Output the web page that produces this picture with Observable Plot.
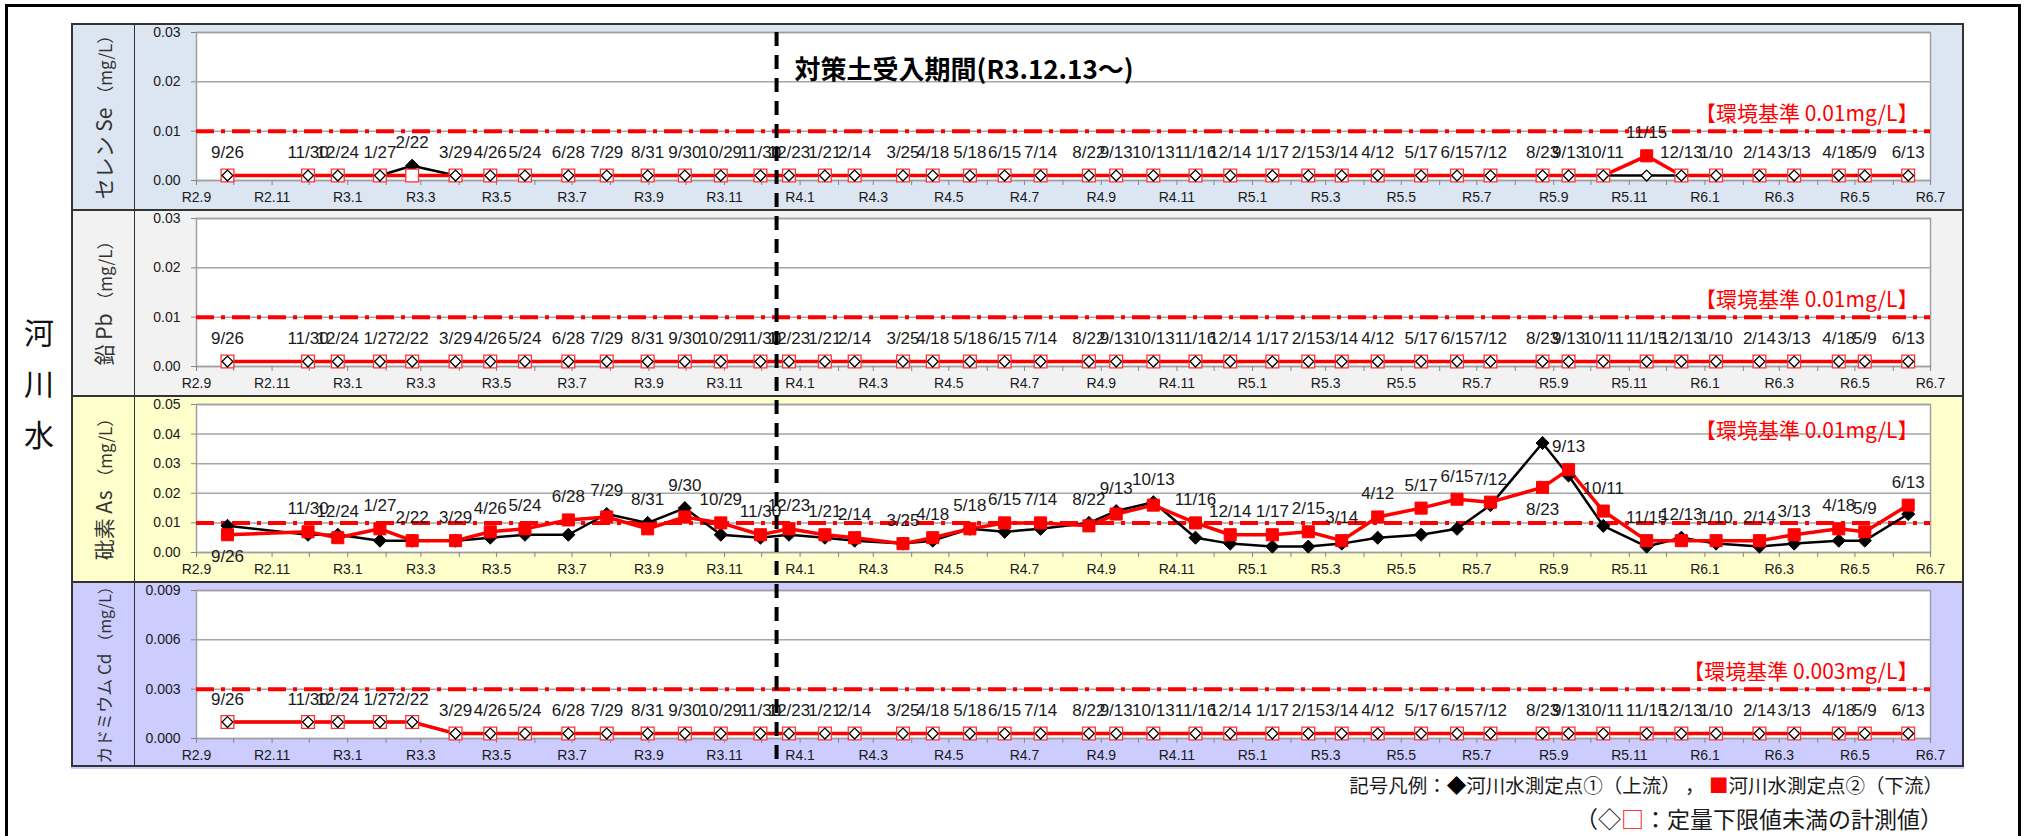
<!DOCTYPE html>
<html><head><meta charset="utf-8">
<script src="https://cdn.jsdelivr.net/npm/d3@7"></script>
<script src="https://cdn.jsdelivr.net/npm/@observablehq/plot@0.6"></script>
<style>
body{margin:0;background:#fff;}
#root{position:relative;width:2028px;height:836px;overflow:hidden;background:#fff;font-family:"Noto Sans CJK JP","Noto Sans",sans-serif;}
.abs{position:absolute;}
</style></head><body><div id="root"></div>
<script>
// ---------- DATA ----------
const sampleDates = ["2020-09-26","2020-11-30","2020-12-24",
 "2021-01-27","2021-02-22","2021-03-29","2021-04-26","2021-05-24","2021-06-28","2021-07-29","2021-08-31","2021-09-30","2021-10-29","2021-11-30","2021-12-23",
 "2022-01-21","2022-02-14","2022-03-25","2022-04-18","2022-05-18","2022-06-15","2022-07-14","2022-08-22","2022-09-13","2022-10-13","2022-11-16","2022-12-14",
 "2023-01-17","2023-02-15","2023-03-14","2023-04-12","2023-05-17","2023-06-15","2023-07-12","2023-08-23","2023-09-13","2023-10-11","2023-11-15","2023-12-13",
 "2024-01-10","2024-02-14","2024-03-13","2024-04-18","2024-05-09","2024-06-13"];

const xTickLabels = ["R2.9","R2.11","R3.1","R3.3","R3.5","R3.7","R3.9","R3.11","R4.1","R4.3","R4.5","R4.7","R4.9","R4.11","R5.1","R5.3","R5.5","R5.7","R5.9","R5.11","R6.1","R6.3","R6.5","R6.7"];
const xStart = "2020-09-01", xEnd = "2024-07-01";
const acceptanceStart = "2021-12-13";
const acceptanceLabel = "対策土受入期間(R3.12.13～)";

// Selenium (mg/L)
const seUp = [0.001,0.001,0.001,0.001,0.003,0.001,0.001,0.001,0.001,0.001,0.001,0.001,0.001,0.001,0.001,
 0.001,0.001,0.001,0.001,0.001,0.001,0.001,0.001,0.001,0.001,0.001,0.001,
 0.001,0.001,0.001,0.001,0.001,0.001,0.001,0.001,0.001,0.001,0.001,0.001,
 0.001,0.001,0.001,0.001,0.001,0.001];
const seDown = [0.001,0.001,0.001,0.001,0.001,0.001,0.001,0.001,0.001,0.001,0.001,0.001,0.001,0.001,0.001,
 0.001,0.001,0.001,0.001,0.001,0.001,0.001,0.001,0.001,0.001,0.001,0.001,
 0.001,0.001,0.001,0.001,0.001,0.001,0.001,0.001,0.001,0.001,0.005,0.001,
 0.001,0.001,0.001,0.001,0.001,0.001];
const seUpDetected = ["2021-02-22"];
const seDownDetected = ["2023-11-15"];

// Lead (mg/L)
const pbUp = [0.001,0.001,0.001,0.001,0.001,0.001,0.001,0.001,0.001,0.001,0.001,0.001,0.001,0.001,0.001,
 0.001,0.001,0.001,0.001,0.001,0.001,0.001,0.001,0.001,0.001,0.001,0.001,
 0.001,0.001,0.001,0.001,0.001,0.001,0.001,0.001,0.001,0.001,0.001,0.001,
 0.001,0.001,0.001,0.001,0.001,0.001];
const pbDown = [0.001,0.001,0.001,0.001,0.001,0.001,0.001,0.001,0.001,0.001,0.001,0.001,0.001,0.001,0.001,
 0.001,0.001,0.001,0.001,0.001,0.001,0.001,0.001,0.001,0.001,0.001,0.001,
 0.001,0.001,0.001,0.001,0.001,0.001,0.001,0.001,0.001,0.001,0.001,0.001,
 0.001,0.001,0.001,0.001,0.001,0.001];
const pbUpDetected = [];
const pbDownDetected = [];

// Arsenic (mg/L)
const asUp = [0.009,0.006,0.006,
 0.004,0.004,0.004,0.005,0.006,0.006,0.013,0.010,0.015,0.006,0.005,0.006,
 0.005,0.004,0.003,0.004,0.008,0.007,0.008,0.010,0.014,0.017,0.005,0.003,
 0.002,0.002,0.003,0.005,0.006,0.008,0.016,0.037,0.026,0.009,0.002,0.005,
 0.003,0.002,0.003,0.004,0.004,0.013];
const asDown = [0.006,0.007,0.005,
 0.008,0.004,0.004,0.007,0.008,0.011,0.012,0.008,0.012,0.010,0.006,0.008,
 0.006,0.005,0.003,0.005,0.008,0.010,0.010,0.009,0.013,0.016,0.010,0.006,
 0.006,0.007,0.004,0.012,0.015,0.018,0.017,0.022,0.028,0.014,0.004,0.004,
 0.004,0.004,0.006,0.008,0.007,0.016];
const asUpDetected = sampleDates;
const asDownDetected = sampleDates;
const asLabelBelow = ["2020-09-26","2023-08-23"];

// Cadmium (mg/L)
const cdUp = [0.001,0.001,0.001,
 0.001,0.001,0.0003,0.0003,0.0003,0.0003,0.0003,0.0003,0.0003,0.0003,0.0003,0.0003,
 0.0003,0.0003,0.0003,0.0003,0.0003,0.0003,0.0003,0.0003,0.0003,0.0003,0.0003,0.0003,
 0.0003,0.0003,0.0003,0.0003,0.0003,0.0003,0.0003,0.0003,0.0003,0.0003,0.0003,0.0003,
 0.0003,0.0003,0.0003,0.0003,0.0003,0.0003];
const cdDown = [0.001,0.001,0.001,
 0.001,0.001,0.0003,0.0003,0.0003,0.0003,0.0003,0.0003,0.0003,0.0003,0.0003,0.0003,
 0.0003,0.0003,0.0003,0.0003,0.0003,0.0003,0.0003,0.0003,0.0003,0.0003,0.0003,0.0003,
 0.0003,0.0003,0.0003,0.0003,0.0003,0.0003,0.0003,0.0003,0.0003,0.0003,0.0003,0.0003,
 0.0003,0.0003,0.0003,0.0003,0.0003,0.0003];
const cdUpDetected = [];
const cdDownDetected = [];

const seTicks = [0, 0.01, 0.02, 0.03];
const pbTicks = [0, 0.01, 0.02, 0.03];
const asTicks = [0, 0.01, 0.02, 0.03, 0.04, 0.05];
const cdTicks = [0, 0.003, 0.006, 0.009];
const seStd = 0.01, pbStd = 0.01, asStd = 0.01, cdStd = 0.003;
const seStdLabel = "【環境基準 0.01mg/L】";
const pbStdLabel = "【環境基準 0.01mg/L】";
const asStdLabel = "【環境基準 0.01mg/L】";
const cdStdLabel = "【環境基準 0.003mg/L】";
const groupLabel = "河川水";
const legendLine1 = ["記号凡例：", "◆", "河川水測定点①（上流） ，", "■", "河川水測定点②（下流）"];
const legendLine2 = ["（◇", "□", "：定量下限値未満の計測値）"];

// ---------- LAYOUT ----------
const NARROW = '"Liberation Sans Narrow","Arial Narrow","Liberation Sans",Arial,sans-serif';
const JP = '"Noto Sans CJK JP","Noto Sans",sans-serif';
const root = document.getElementById("root");
function el(style, html) { const d = document.createElement("div"); d.className = "abs"; Object.assign(d.style, style); if (html != null) d.innerHTML = html; root.appendChild(d); return d; }

const parseD = s => new Date(s + "T00:00:00Z");
const xDomain = [parseD(xStart), parseD(xEnd)];
const tickDates = xTickLabels.map(l => { const [y, m] = l.slice(1).split("."); return new Date(Date.UTC(2018 + +y, +m - 1, 1)); });
const labelMap = new Map(tickDates.map((d, i) => [+d, xTickLabels[i]]));
const monthTicks = d3.utcMonth.range(xDomain[0], d3.utcDay.offset(xDomain[1], 1));

const PANEL_L = 71, PANEL_R = 1964, DIV_X = 134, PANEL_H = 186;
const PLOT_W = PANEL_R - DIV_X, M_LEFT = 62, M_RIGHT = 34, M_TOP = 9, M_BOTTOM = 29;

// outer border (bottom edge lies just outside the picture)
el({left:"5px", top:"4px", width:"2016px", height:"840px", border:"3px solid #000", boxSizing:"border-box"});

const panels = [
  {top:23, bg:"#DCE6F2", title:"セレン Se", tfs:21, ufs:17, up:seUp, down:seDown, upDet:seUpDetected, downDet:seDownDetected, ticks:seTicks, fmt:".2f", std:seStd, stdLabel:seStdLabel, below:[]},
  {top:209, bg:"#F2F2F2", title:"鉛 Pb", tfs:21, ufs:17, up:pbUp, down:pbDown, upDet:pbUpDetected, downDet:pbDownDetected, ticks:pbTicks, fmt:".2f", std:pbStd, stdLabel:pbStdLabel, below:[]},
  {top:395, bg:"#FFFFCC", title:"砒素 As", tfs:21, ufs:17, up:asUp, down:asDown, upDet:asUpDetected, downDet:asDownDetected, ticks:asTicks, fmt:".2f", std:asStd, stdLabel:asStdLabel, below:asLabelBelow, stdTop:true},
  {top:581, bg:"#CCCCFF", title:"カドミウム Cd", tfs:17, ufs:16, up:cdUp, down:cdDown, upDet:cdUpDetected, downDet:cdDownDetected, ticks:cdTicks, fmt:".3f", std:cdStd, stdLabel:cdStdLabel, below:[]}
];

panels.forEach(p => {
  el({left:PANEL_L + "px", top:p.top + "px", width:(PANEL_R - PANEL_L) + "px", height:PANEL_H + "px", background:p.bg, borderTop:"2px solid #333"});
  el({left:DIV_X + "px", top:p.top + "px", width:"0px", height:PANEL_H + "px", borderLeft:"1.5px solid #333"});
  // rotated axis title
  el({left:(PANEL_L + DIV_X) / 2 + "px", top:(p.top + PANEL_H / 2 - 3) + "px", whiteSpace:"nowrap", transform:"translate(-50%,-50%) rotate(-90deg)", fontFamily:JP, color:"#333", fontSize:p.tfs + "px", lineHeight:"1"},
    p.title + ' <span style="font-size:' + p.ufs + 'px">（mg/L）</span>');

  const upSet = new Set(p.upDet), downSet = new Set(p.downDet), belowSet = new Set(p.below);
  const rows = sampleDates.map((s, i) => ({
    date: parseD(s), label: `${+s.slice(5, 7)}/${+s.slice(8, 10)}`,
    up: p.up[i], down: p.down[i], upDet: upSet.has(s), downDet: downSet.has(s), below: belowSet.has(s)
  }));
  const yMax = p.ticks[p.ticks.length - 1];
  const svg = Plot.plot({
    width: PLOT_W, height: PANEL_H,
    marginLeft: M_LEFT, marginRight: M_RIGHT, marginTop: M_TOP, marginBottom: M_BOTTOM,
    x: {type: "utc", domain: xDomain},
    y: {domain: [0, yMax]},
    style: {background: "transparent", fontFamily: NARROW, fontSize: "14px", color: "#1a1a1a", overflow: "visible"},
    marks: [
      Plot.frame({fill: "white", stroke: null}),
      Plot.gridY(p.ticks, {stroke: "#a6a6a6", strokeOpacity: 1, strokeWidth: 1.5}),
      Plot.frame({stroke: "#a0a0a0", strokeWidth: 1.5}),
      Plot.ruleY([p.std], {stroke: "#ff0000", strokeWidth: 4, strokeDasharray: "18,7,4,7"}),
      Plot.axisY(p.ticks, {tickFormat: d3.format(p.fmt), tickSize: 5, tickPadding: 11, stroke: "#868686", fill: "#1a1a1a", label: null}),
      Plot.axisX(monthTicks, {tickFormat: d => labelMap.get(+d) ?? "", tickSize: 5, tickPadding: 7, stroke: "#868686", fill: "#1a1a1a", label: null}),
      p.stdTop
        ? Plot.text([p.stdLabel], {text: d => d, frameAnchor: "top-right", dx: -12, dy: 19, fill: "#ff0000", fontSize: 21, fontFamily: JP})
        : Plot.text([p.std], {y: d => d, text: () => p.stdLabel, frameAnchor: "right", dx: -12, dy: -17, textAnchor: "end", fill: "#ff0000", fontSize: 21, fontFamily: JP}),
      Plot.line(rows, {x: "date", y: "up", stroke: "#000", strokeWidth: 2.5}),
      Plot.line(rows, {x: "date", y: "down", stroke: "#ff0000", strokeWidth: 3.5}),
      Plot.dot(rows.filter(d => d.upDet), {x: "date", y: "up", symbol: "diamond2", r: 5.9, fill: "#000", stroke: "#000", strokeWidth: 1}),
      Plot.dot(rows.filter(d => d.downDet), {x: "date", y: "down", symbol: "square", r: 6.8, fill: "#ff0000", stroke: "#ff0000", strokeWidth: 1}),
      Plot.dot(rows.filter(d => !d.downDet), {x: "date", y: "down", symbol: "square", r: 7.2, fill: "white", stroke: "#ff3030", strokeWidth: 1.3}),
      Plot.dot(rows.filter(d => !d.upDet), {x: "date", y: "up", symbol: "diamond2", r: 4.9, fill: "white", stroke: "#000", strokeWidth: 1.3}),
      Plot.text(rows.filter(d => !d.below), {x: "date", y: d => Math.max(d.up, d.down), text: "label", dy: -23, fill: "#1a1a1a", fontSize: 17, fontFamily: NARROW}),
      Plot.text(rows.filter(d => d.below), {x: "date", y: d => Math.min(d.up, d.down), text: "label", dy: 22, fill: "#1a1a1a", fontSize: 17, fontFamily: NARROW})
    ]
  });
  const holder = el({left: DIV_X + "px", top: p.top + "px", width: PLOT_W + "px", height: PANEL_H + "px"});
  holder.appendChild(svg);
});

// panel outer border
el({left:PANEL_L + "px", top:"23px", width:(PANEL_R - PANEL_L) + "px", height:(PANEL_H * 4) + "px", border:"2px solid #333", boxSizing:"border-box"});

// overlay: acceptance period line and title
const overlay = Plot.plot({
  width: PLOT_W, height: 836,
  marginLeft: M_LEFT, marginRight: M_RIGHT, marginTop: 32, marginBottom: 836 - 767,
  x: {type: "utc", domain: xDomain, axis: null},
  style: {background: "transparent", overflow: "visible"},
  marks: [
    Plot.ruleX([parseD(acceptanceStart)], {stroke: "#000", strokeWidth: 4, strokeDasharray: "14,9"}),
    Plot.text([acceptanceLabel], {x: () => parseD(acceptanceStart), text: d => d, frameAnchor: "top", dx: 18, dy: 28, textAnchor: "start", fontWeight: "bold", fontSize: 26, fontFamily: JP, fill: "#000"})
  ]
});
const ov = el({left: DIV_X + "px", top: "0px", width: PLOT_W + "px", height: "836px", pointerEvents: "none"});
ov.appendChild(overlay);

// group label 河川水
[...groupLabel].forEach((ch, i) => {
  el({left: "39px", top: (331 + i * 51) + "px", transform: "translate(-50%,-50%)", fontFamily: JP, fontSize: "30px", lineHeight: "1", color: "#111"}, ch);
});

// legend
el({right: "85px", top: "772px", fontFamily: JP, fontSize: "19.5px", lineHeight: "26px", color: "#1a1a1a", whiteSpace: "nowrap"},
  legendLine1[0] + '<span style="color:#000">' + legendLine1[1] + '</span>' + legendLine1[2] + ' <span style="color:#ff0000">' + legendLine1[3] + '</span>' + legendLine1[4]);
el({right: "85px", top: "805px", fontFamily: JP, fontSize: "23px", lineHeight: "26px", color: "#1a1a1a", whiteSpace: "nowrap"},
  legendLine2[0] + '<span style="color:#ff0000">' + legendLine2[1] + '</span>' + legendLine2[2]);
</script></body></html>
